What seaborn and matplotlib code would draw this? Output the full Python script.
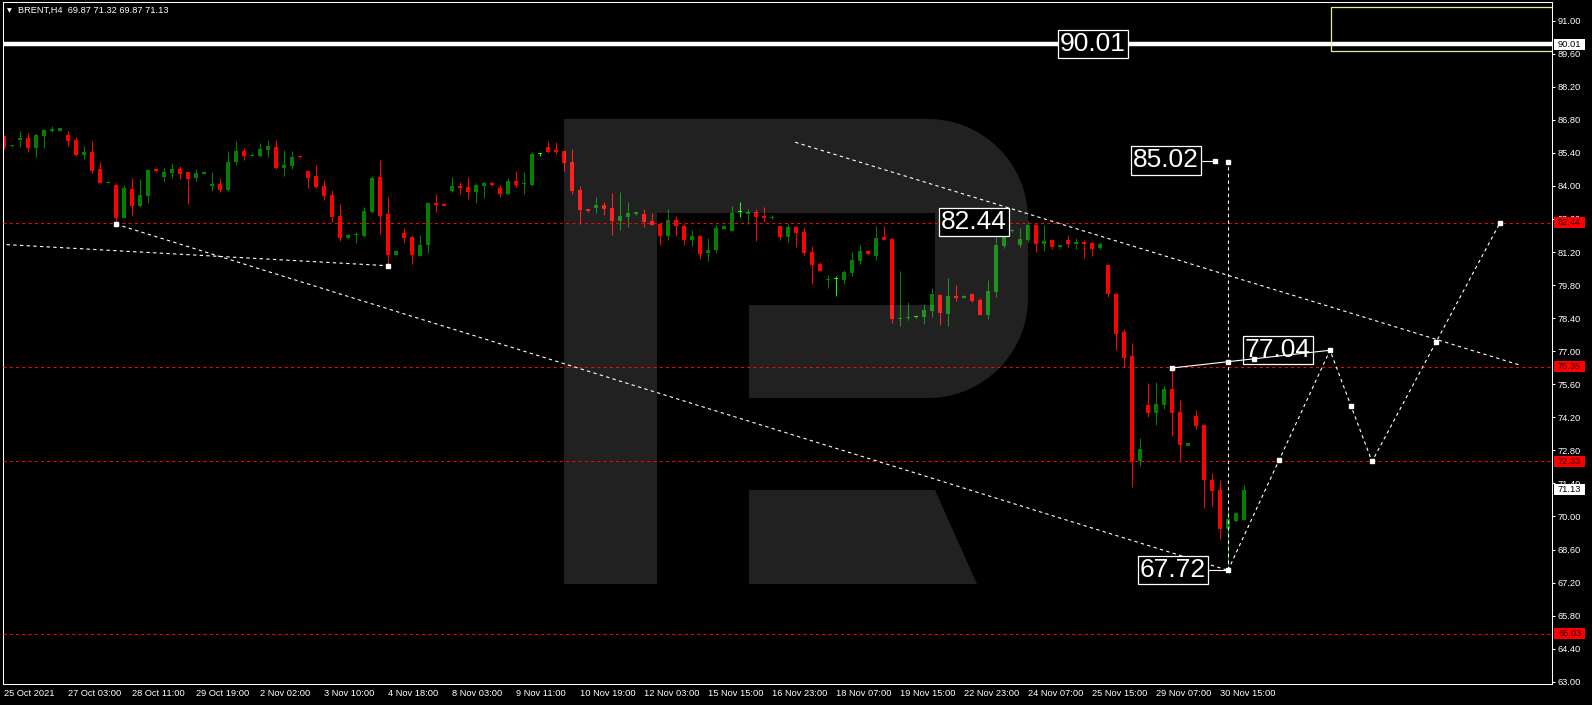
import matplotlib
matplotlib.use('Agg')
import matplotlib.pyplot as plt
from matplotlib.path import Path
from matplotlib.patches import PathPatch, Rectangle
from matplotlib.transforms import Affine2D, blended_transform_factory
import numpy as np
import seaborn as sns

# H4 candles, BRENT, 25 Oct - 1 Dec 2021
opens = [86.12, 85.68, 85.96, 86.03, 85.62, 86.13, 86.34, 86.34, 86.16, 85.95,
         85.33, 85.44, 84.72, 84.14, 84.04, 82.66, 83.87, 83.15, 83.59, 84.70,
         84.39, 84.56, 84.70, 84.59, 84.35, 84.52, 84.01, 84.08, 83.83, 85.02,
         85.48, 85.28, 85.28, 85.54, 85.65, 84.78, 84.86, 85.27, 84.62, 84.42,
         84.00, 83.62, 82.73, 81.81, 81.91, 81.88, 82.88, 84.38, 82.81, 81.09,
         82.01, 81.84, 81.03, 81.50, 83.28, 83.24, 83.79, 84.00, 83.96, 83.75,
         84.01, 84.14, 83.91, 83.67, 84.21, 84.07, 84.04, 85.36, 85.65, 85.52,
         85.48, 85.02, 83.83, 83.02, 83.07, 83.19, 83.07, 82.52, 82.69, 82.81,
         82.81, 82.52, 82.39, 81.88, 82.56, 82.30, 81.71, 81.88, 81.16, 81.29,
         82.19, 82.09, 82.89, 82.81, 82.90, 82.73, 82.66, 82.30, 81.84, 82.26,
         82.05, 81.20, 80.69, 80.02, 80.05, 80.02, 80.31, 80.82, 81.25, 81.03,
         81.84, 81.75, 78.38, 78.41, 78.44, 78.45, 78.70, 79.38, 78.58, 79.34,
         79.27, 79.42, 79.17, 78.53, 79.51, 81.45, 82.09, 81.50, 81.71, 82.35,
         81.54, 81.71, 81.43, 81.71, 81.56, 81.63, 81.58, 81.37, 80.65, 79.42,
         77.81, 76.80, 72.34, 74.74, 74.38, 74.72, 75.40, 74.43, 72.99, 74.26,
         73.89, 71.55, 71.12, 69.47, 69.81, 69.87]
highs = [86.12, 85.74, 86.33, 86.23, 86.23, 86.41, 86.55, 86.46, 86.33, 86.06,
         85.69, 85.89, 85.02, 84.19, 84.12, 84.03, 84.34, 84.30, 84.72, 84.72,
         84.76, 84.99, 84.85, 84.59, 84.70, 84.63, 84.59, 84.34, 85.48, 85.90,
         85.61, 85.38, 85.82, 85.95, 85.95, 85.52, 85.48, 85.29, 84.68, 84.89,
         84.25, 83.83, 83.24, 81.97, 82.05, 83.11, 84.42, 85.10, 83.53, 81.27,
         82.22, 81.91, 81.92, 83.32, 83.66, 83.27, 84.38, 84.17, 84.38, 84.14,
         84.17, 84.18, 84.04, 84.34, 84.63, 84.59, 85.44, 85.40, 85.90, 85.86,
         85.48, 85.57, 84.00, 83.02, 83.53, 83.32, 83.70, 83.74, 83.32, 82.90,
         83.02, 82.86, 82.39, 83.02, 82.73, 82.39, 82.14, 81.92, 81.80, 82.35,
         82.31, 83.15, 83.32, 83.02, 83.02, 83.11, 82.77, 82.30, 82.39, 82.30,
         82.26, 81.46, 80.78, 80.23, 80.19, 80.44, 81.20, 81.50, 81.29, 82.30,
         82.30, 81.80, 80.41, 79.09, 78.46, 79.00, 79.68, 79.42, 80.10, 79.81,
         79.38, 79.47, 79.26, 80.02, 81.92, 82.30, 82.18, 82.22, 82.52, 82.39,
         82.35, 81.75, 81.50, 81.92, 81.80, 81.71, 81.67, 81.63, 80.65, 79.51,
         77.94, 77.35, 73.33, 75.65, 75.70, 75.53, 76.29, 74.93, 73.16, 74.51,
         73.93, 71.84, 71.55, 70.40, 70.19, 71.32]
lows = [85.58, 85.67, 85.66, 85.45, 85.24, 85.62, 86.30, 86.34, 85.71, 85.28,
        85.16, 84.53, 84.14, 84.13, 82.38, 82.66, 82.74, 83.12, 83.29, 84.58,
        84.18, 84.35, 84.30, 83.25, 84.22, 84.49, 83.80, 83.76, 83.79, 84.94,
        85.10, 85.27, 85.23, 85.24, 84.73, 84.44, 84.73, 85.19, 83.93, 83.93,
        83.42, 82.49, 81.67, 81.75, 81.58, 81.85, 82.84, 81.97, 80.62, 81.06,
        81.57, 80.70, 81.03, 81.17, 82.91, 83.15, 83.76, 83.67, 83.45, 83.29,
        83.49, 84.01, 83.53, 83.63, 83.96, 83.67, 84.01, 85.28, 85.40, 85.35,
        84.63, 83.66, 82.39, 82.90, 82.86, 82.77, 81.94, 82.14, 82.26, 82.77,
        82.26, 82.35, 81.50, 81.71, 81.88, 81.50, 81.46, 80.91, 80.82, 81.20,
        82.18, 82.09, 82.69, 82.39, 81.67, 82.47, 82.60, 81.71, 81.63, 81.41,
        81.08, 79.85, 80.40, 79.68, 79.34, 79.85, 80.19, 80.69, 81.08, 80.86,
        81.71, 78.21, 78.08, 78.34, 78.42, 78.16, 78.45, 78.11, 78.07, 79.13,
        79.26, 79.09, 78.53, 78.37, 79.30, 81.37, 82.07, 81.41, 81.63, 81.20,
        81.25, 81.33, 81.39, 81.41, 81.33, 80.95, 81.03, 81.33, 79.30, 77.05,
        76.35, 71.26, 72.15, 74.23, 73.88, 74.55, 73.41, 72.34, 72.99, 73.71,
        70.36, 70.45, 69.05, 67.72, 69.76, 69.87]
closes = [85.66, 85.73, 86.03, 85.62, 86.17, 86.37, 86.43, 86.46, 85.92, 85.33,
          85.44, 84.65, 84.14, 84.18, 82.66, 83.91, 83.17, 83.62, 84.68, 84.63,
          84.59, 84.70, 84.52, 84.31, 84.55, 84.60, 84.08, 83.84, 85.02, 85.48,
          85.28, 85.32, 85.57, 85.69, 84.76, 84.89, 85.23, 85.21, 84.35, 83.96,
          83.59, 82.69, 81.81, 81.92, 81.93, 82.94, 84.34, 82.74, 81.08, 81.25,
          81.81, 81.08, 81.50, 83.28, 83.19, 83.15, 84.00, 83.93, 83.75, 84.04,
          84.13, 84.06, 83.67, 84.21, 84.04, 84.09, 85.35, 85.36, 85.44, 85.44,
          84.97, 83.79, 82.98, 82.94, 83.19, 83.02, 82.52, 82.73, 82.86, 82.90,
          82.47, 82.35, 81.88, 82.56, 82.30, 81.71, 81.88, 81.12, 81.29, 82.22,
          82.30, 82.86, 82.89, 82.90, 82.69, 82.64, 82.70, 81.84, 82.26, 82.01,
          81.16, 80.65, 80.40, 80.06, 80.05, 80.36, 80.86, 81.25, 81.12, 81.80,
          81.73, 78.38, 78.41, 78.45, 78.44, 78.75, 79.42, 78.62, 79.34, 79.26,
          79.34, 79.13, 78.53, 79.55, 81.50, 82.13, 82.13, 81.75, 82.35, 81.54,
          81.67, 81.41, 81.50, 81.54, 81.63, 81.56, 81.33, 81.54, 79.42, 77.73,
          76.73, 72.34, 72.85, 74.38, 74.77, 75.40, 74.38, 73.03, 73.12, 73.83,
          71.55, 71.08, 69.47, 69.89, 70.15, 71.13]

date_ticks = list(range(0, 153, 8))
date_labels = ['25 Oct 2021', '27 Oct 03:00', '28 Oct 11:00', '29 Oct 19:00',
               '2 Nov 02:00', '3 Nov 10:00', '4 Nov 18:00', '8 Nov 03:00',
               '9 Nov 11:00', '10 Nov 19:00', '12 Nov 03:00', '15 Nov 15:00',
               '16 Nov 23:00', '18 Nov 07:00', '19 Nov 15:00', '22 Nov 23:00',
               '24 Nov 07:00', '25 Nov 15:00', '29 Nov 07:00', '30 Nov 15:00']
price_ticks = [63.00 + 1.40 * k for k in range(21)]

levels = [82.44, 76.35, 72.33, 65.03]   # red dashed levels
resist = 90.01                          # thick white line
last_price = 71.13

# analyst drawings (bar index, price)
upper_bars, upper_prices = [98.9, 189.5], [85.85, 76.41]
lower_bars, lower_prices = [14, 153], [82.38, 67.72]
left_bars, left_prices = [-0.5, 48], [81.53, 80.62]
vert_bars, vert_prices = [153, 153], [67.72, 85.02]
solid_bars, solid_prices = [146, 165.75], [76.29, 77.04]
fc_bars = [153, 165.75, 171, 187]
fc_prices = [67.72, 77.04, 72.33, 82.44]

label_texts = ['90.01', '85.02', '82.44', '77.04', '67.72']
label_bars = [136.1, 145.25, 121.25, 159.25, 146.1]
label_prices = [90.01, 85.08, 82.47, 77.05, 67.73]

W, H = 1592, 705
sns.set_style('dark', rc={'axes.facecolor': 'black', 'figure.facecolor': 'black'})
plt.rcParams['font.family'] = ['Liberation Sans', 'DejaVu Sans']

fig = plt.figure(figsize=(W / 100, H / 100), dpi=100, facecolor='black')
ax = fig.add_axes([2.5 / W, 1 - 684 / H, 1549.5 / W, 682 / H])
ax.set_facecolor('black')
ax.grid(False)
ax.set_xlim(-0.1875, 193.5)
ax.set_ylim(62.906, 91.79)

o = np.array(opens); h = np.array(highs); l = np.array(lows); c = np.array(closes)
idx = np.arange(len(o))
col = np.where(c > o, '#008000', '#ff0000').astype(object)
col[c == o] = '#00ff00'
body_lo = np.minimum(o, c)
body_h = np.maximum(np.abs(c - o), 0.045)

ax.vlines(idx, l, h, colors=col, lw=0.75, zorder=2)
ax.bar(idx, body_h, bottom=body_lo, width=0.6, color=col, linewidth=0, zorder=2)

# logo watermark (pixel geometry)
def arc(cx, cy, r, a0, a1, n=30):
    t = np.radians(np.linspace(a0, a1, n))
    return list(zip(cx + r * np.cos(t), cy - r * np.sin(t)))

R = 100
outer = [(564, 584), (564, 119), (1028 - R, 119)]
outer += arc(1028 - R, 119 + R, R, 90, 0)
outer += [(1028, 398 - R)]
outer += arc(1028 - R, 398 - R, R, 0, -90)
outer += [(749, 398), (749, 305), (935, 305), (935, 213), (657, 213), (657, 584), (564, 584)]
leg = [(749, 490), (935, 490), (977, 584), (749, 584), (749, 490)]
verts = outer + leg
codes = ([Path.MOVETO] + [Path.LINETO] * (len(outer) - 2) + [Path.CLOSEPOLY]
         + [Path.MOVETO] + [Path.LINETO] * 3 + [Path.CLOSEPOLY])
pix = Affine2D().scale(1 / W, -1 / H).translate(0, 1) + fig.transFigure
logo = PathPatch(Path(verts, codes), facecolor='white', alpha=0.135, lw=0,
                 transform=pix, zorder=3)
ax.add_patch(logo)

# horizontal levels
for p in levels:
    ax.axhline(p, color='#ff0000', lw=0.75, ls=(0, (3, 3)), zorder=4)
ax.axhline(resist, color='white', lw=3.2, zorder=4)

# yellow rectangle top right
ax.add_patch(Rectangle((165.9, 89.73), 30, 1.86, fill=False, ec='#eaea8c', lw=0.9, zorder=4))

dot = (0, (3, 3))
def dline(xs, ys, ls=dot, z=5):
    sns.lineplot(x=xs, y=ys, ax=ax, sort=False, estimator=None, color='white',
                 lw=0.8, linestyle=ls, zorder=z)

dline(upper_bars, upper_prices)
dline(lower_bars, lower_prices)
dline(left_bars, left_prices)
dline(vert_bars, vert_prices)
dline(fc_bars, fc_prices)
dline(solid_bars, solid_prices, ls='-', z=9)

mk = dict(color='white', marker='s', ms=2.6, ls='none', zorder=9)
ax.plot([lower_bars[0], left_bars[1], fc_bars[0], vert_bars[1]],
        [lower_prices[0], left_prices[1], fc_prices[0], vert_prices[1]], **mk)
mid_b = [(fc_bars[k] + fc_bars[k + 1]) / 2 for k in range(3)] + fc_bars[1:]
mid_p = [(fc_prices[k] + fc_prices[k + 1]) / 2 for k in range(3)] + fc_prices[1:]
ax.plot(mid_b, mid_p, **mk)
ax.plot([solid_bars[0], 153, 156.2], [solid_prices[0], 76.56, 76.67], **mk)

# connectors from boxes
ax.plot([149.7, 151.4], [85.05, 85.05], color='white', lw=0.8, zorder=9)
ax.plot([151.4], [85.05], **mk)
ax.plot([150.5, 153], [67.72, 67.72], color='white', lw=0.8, zorder=9)

# big price labels
for t, b, p in zip(label_texts, label_bars, label_prices):
    ax.text(b, p, t, ha='center', va='center', fontsize=19, color='white', zorder=8,
            bbox=dict(boxstyle='square,pad=0.08', fc='black', ec='white', lw=0.9))

# axes styling
for s in ax.spines.values():
    s.set_color('white')
    s.set_linewidth(0.75)
ax.yaxis.tick_right()
ax.set_yticks(price_ticks)
ax.set_yticklabels([f'{v:.2f}' for v in price_ticks])
ax.set_xticks(date_ticks)
ax.set_xticklabels(date_labels, ha='left')
ax.tick_params(axis='both', colors='white', labelcolor='white', labelsize=6.7,
               length=2.2, width=0.75, direction='out')
ax.tick_params(axis='y', pad=2)
ax.tick_params(axis='x', pad=1.5)
ax.set_xlabel('')
ax.set_ylabel('')

# right-axis price boxes
bt = blended_transform_factory(ax.transAxes, ax.transData)
box_h = 11 / 23.61
def axis_box(p, fc, tc):
    ax.add_patch(Rectangle((1.0013, p - box_h / 2), 31 / 1549.5, box_h, transform=bt,
                           fc=fc, ec='none', clip_on=False, zorder=10))
    ax.text(1.0039, p, f'{p:.2f}', transform=bt, ha='left', va='center',
            fontsize=6.7, color=tc, clip_on=False, zorder=11)

for p in levels:
    axis_box(p, '#ff0000', '#300000')
axis_box(resist, 'white', 'black')
axis_box(last_price, 'white', 'black')

# title
fig.text(7 / W, 1 - 10.5 / H, '\u25bc', fontsize=4.5, color='white', va='center',
         family='DejaVu Sans')
fig.text(18 / W, 1 - 10.7 / H,
         f'BRENT,H4  {opens[-1]:.2f} {highs[-1]:.2f} {lows[-1]:.2f} {closes[-1]:.2f}',
         fontsize=6.7, color='white', va='center')

fig.savefig('out.png', dpi=100, facecolor='black')
